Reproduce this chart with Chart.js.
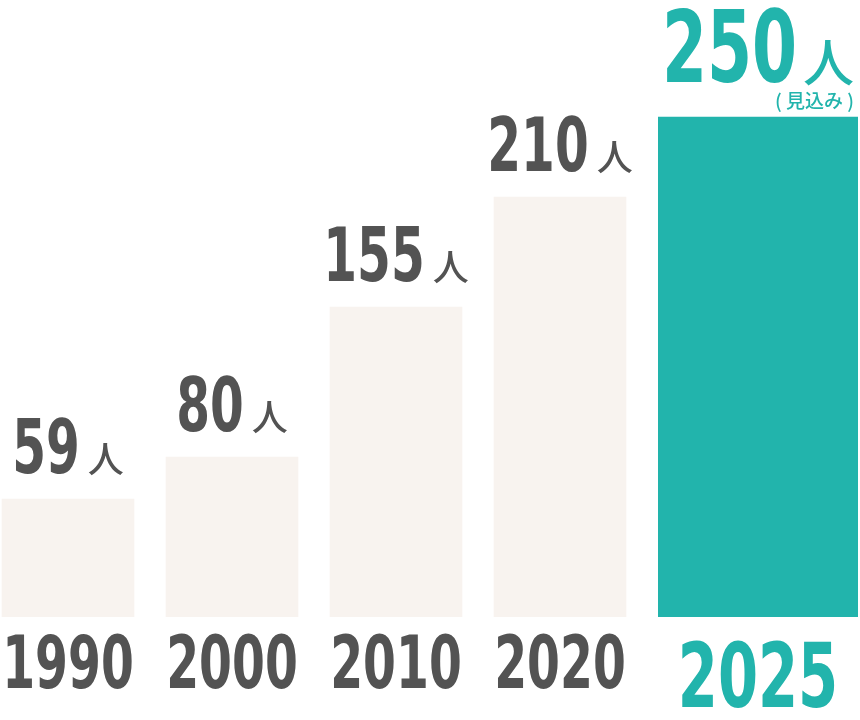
<!DOCTYPE html>
<html>
<head>
<meta charset="utf-8">
<script src="https://cdn.jsdelivr.net/npm/chart.js@4"></script>
<style>
  html, body { margin: 0; padding: 0; background: #fff; overflow: hidden; }
  #wrap { position: relative; width: 860px; height: 720px; }
  #past_box { position: absolute; left: -14px; top: 0; width: 656px; height: 720px; }
  #future_box { position: absolute; left: 658px; top: 0; width: 200px; height: 720px; }
</style>
</head>
<body>
<div id="wrap">
  <div id="past_box"><canvas id="past_chart"></canvas></div>
  <div id="future_box"><canvas id="future_chart"></canvas></div>
</div>
<script>
const years = ["1990", "2000", "2010", "2020"];
const people = [59, 80, 155, 210];
const forecast_year = ["2025"];
const forecast_people = [250];
const unit = "人";
const forecast_note = "( 見込み )";

// no condensed font installed: squeeze DejaVu Sans Condensed horizontally
const num_font = "'DejaVu Sans Condensed', 'DejaVu Sans', sans-serif";
const squeeze = 0.72;
const cjk_font = "'Noto Sans CJK JP', sans-serif";
const gray = "#535353";
const teal = "#22b4ac";

function narrow_text(ctx, txt, x, y, size) {
    ctx.save();
    ctx.font = `bold ${size}px ${num_font}`;
    ctx.textAlign = "left";
    ctx.translate(x, y);
    ctx.scale(squeeze, 1);
    ctx.fillText(txt, 0, 0);
    ctx.restore();
}

function narrow_width(ctx, txt, size) {
    ctx.font = `bold ${size}px ${num_font}`;
    return ctx.measureText(txt).width * squeeze;
}

// number + 人 above each bar, year under it
const value_labels = {
    id: "value_labels",
    afterDatasetsDraw(chart, args, opts) {
        const ctx = chart.ctx;
        const meta = chart.getDatasetMeta(0);
        meta.data.forEach((bar, i) => {
            const txt = String(chart.data.datasets[0].data[i]);
            ctx.save();
            ctx.fillStyle = opts.color;
            ctx.textBaseline = "alphabetic";
            ctx.textAlign = "left";
            const nw = narrow_width(ctx, txt, opts.num_size);
            ctx.font = `500 ${opts.unit_size}px ${cjk_font}`;
            const uw = ctx.measureText(unit).width;
            const x0 = bar.x - (nw + opts.gap + uw) / 2;
            const y = bar.y - opts.offset;
            narrow_text(ctx, txt, x0, y, opts.num_size);
            ctx.font = `500 ${opts.unit_size}px ${cjk_font}`;
            ctx.fillText(unit, x0 + nw + opts.gap, y);
            if (opts.note) {
                ctx.font = `500 ${opts.note_size}px ${cjk_font}`;
                ctx.textAlign = "right";
                ctx.fillText(opts.note, x0 + nw + opts.gap + uw, y + opts.note_drop);
            }
            // year label under the bar
            const year = String(chart.data.labels[i]);
            const yw = narrow_width(ctx, year, opts.tick_size);
            narrow_text(ctx, year, bar.x - yw / 2, chart.chartArea.bottom + opts.tick_drop, opts.tick_size);
            ctx.restore();
        });
    }
};

function draw_chart(chart_id, labels, data, bar_color, opts) {
    const chart = document.getElementById(chart_id).getContext("2d");
    const ds = {
        data: data,
        backgroundColor: bar_color,
        borderWidth: 0,
        categoryPercentage: 1,
        barPercentage: 1
    };
    if (opts.bar_thickness) ds.barThickness = opts.bar_thickness;
    return new Chart(chart, {
        type: "bar",
        data: { labels: labels, datasets: [ds] },
        plugins: [value_labels],
        options: {
            responsive: true,
            maintainAspectRatio: false,
            animation: false,
            layout: { padding: { top: 17, left: 0, right: 0, bottom: 103 } },
            plugins: {
                legend: { display: false },
                tooltip: { enabled: false },
                value_labels: opts.labels
            },
            scales: {
                y: { display: false, min: 0, max: 300 },
                x: { display: false }
            }
        }
    });
}

draw_chart("past_chart", years, people, "#f8f3ef", {
    bar_thickness: 132,
    labels: { color: gray, num_size: 75, unit_size: 36, gap: 8, offset: 26,
              tick_size: 73, tick_drop: 71 }
});
draw_chart("future_chart", forecast_year, forecast_people, teal, {
    labels: { color: teal, num_size: 100, unit_size: 51, gap: 6, offset: 35,
              note: forecast_note, note_size: 19, note_drop: 26,
              tick_size: 89, tick_drop: 90 }
});
</script>
</body>
</html>
